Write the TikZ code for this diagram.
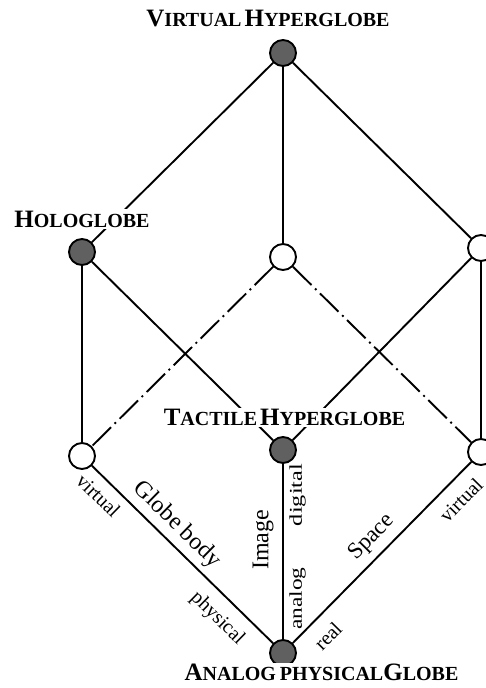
\documentclass[tikz,border=0pt]{standalone}
\usepackage{fontspec}
\setmainfont{Liberation Serif}
\definecolor{nodegray}{RGB}{96,96,96}
\newcommand{\mysc}[2]{{\fontsize{25}{25}\selectfont #1}{\fontsize{20}{20}\selectfont #2}}
\begin{document}
\begin{tikzpicture}[x=1pt,y=1pt,
  dot/.style={circle, draw, line width=1.9pt, minimum size=26pt, inner sep=0pt},
  full/.style={dot, fill=nodegray},
  hollow/.style={dot, fill=white},
  edge/.style={line width=1.9pt},
  dd/.style={line width=1.9pt, dash pattern=on 26pt off 5pt on 2pt off 5pt},
  title/.style={fill=white, inner sep=1.5pt, font=\bfseries},
  lab/.style={inner sep=0pt},
  ]
\useasboundingbox (0,0) rectangle (486,-688);
\node[full]   (top)   at (283,-53)  {};
\node[full]   (holo)  at (82,-252)  {};
\node[hollow] (mid)   at (283,-257) {};
\node[hollow] (right) at (481,-248) {};
\node[hollow] (bl)    at (82,-456)  {};
\node[full]   (tact)  at (283,-450) {};
\node[hollow] (br)    at (481,-452) {};
\node[full]   (bot)   at (283,-653) {};

\draw[edge] (top) -- (holo);
\draw[edge] (top) -- (mid);
\draw[edge] (top) -- (right);
\draw[edge] (holo) -- (bl);
\draw[edge] (holo) -- (tact);
\draw[edge] (right) -- (tact);
\draw[edge] (right) -- (br);
\draw[edge] (bl) -- (bot);
\draw[edge] (tact) -- (bot);
\draw[edge] (br) -- (bot);
\draw[dd] (mid) -- (bl);
\draw[dd] (mid) -- (br);

\node[title] (tV) at (268,-19) {\mysc{V}{IRTUAL}\hspace{3pt}\mysc{H}{YPERGLOBE}};
\node[title] (tH) at (82,-219) {\mysc{H}{OLOGLOBE}};
\node[title] (tT) at (284.5,-417.5) {\mysc{T}{ACTILE}\hspace{3pt}\mysc{H}{YPERGLOBE}};
\node[title] (tA) at (321.5,-672.5) {\mysc{A}{NALOG}\hspace{4pt}{\fontsize{20}{20}\selectfont PHYSICAL}\mysc{G}{LOBE}};

\node[lab, rotate=-44.4, font=\fontsize{24}{24}\selectfont] (lGB) at (177,-525) {Globe body};
\node[lab, rotate=-44.4, font=\fontsize{20}{20}\selectfont] (lv1) at (98.5,-495.5) {virtual};
\node[lab, rotate=-44.4, font=\fontsize{20}{20}\selectfont] (lph) at (217.3,-618.5) {physical};
\node[lab, rotate=90, font=\fontsize{24}{24}\selectfont] (lIm) at (263,-540) {Image};
\node[lab, rotate=90, font=\fontsize{18}{18}\selectfont] (ldg) at (297.5,-495) {\scalebox{1.35}[1]{digital}};
\node[lab, rotate=90, font=\fontsize{18}{18}\selectfont] (lan) at (297.5,-598.5) {\scalebox{1.3}[1]{analog}};
\node[lab, rotate=45.4, font=\fontsize{23}{23}\selectfont] (lSp) at (372,-537.5) {Space};
\node[lab, rotate=45.4, font=\fontsize{20}{20}\selectfont] (lv2) at (461,-500) {virtual};
\node[lab, rotate=45.4, font=\fontsize{20}{20}\selectfont] (lre) at (328,-636) {real};
\end{tikzpicture}
\end{document}
